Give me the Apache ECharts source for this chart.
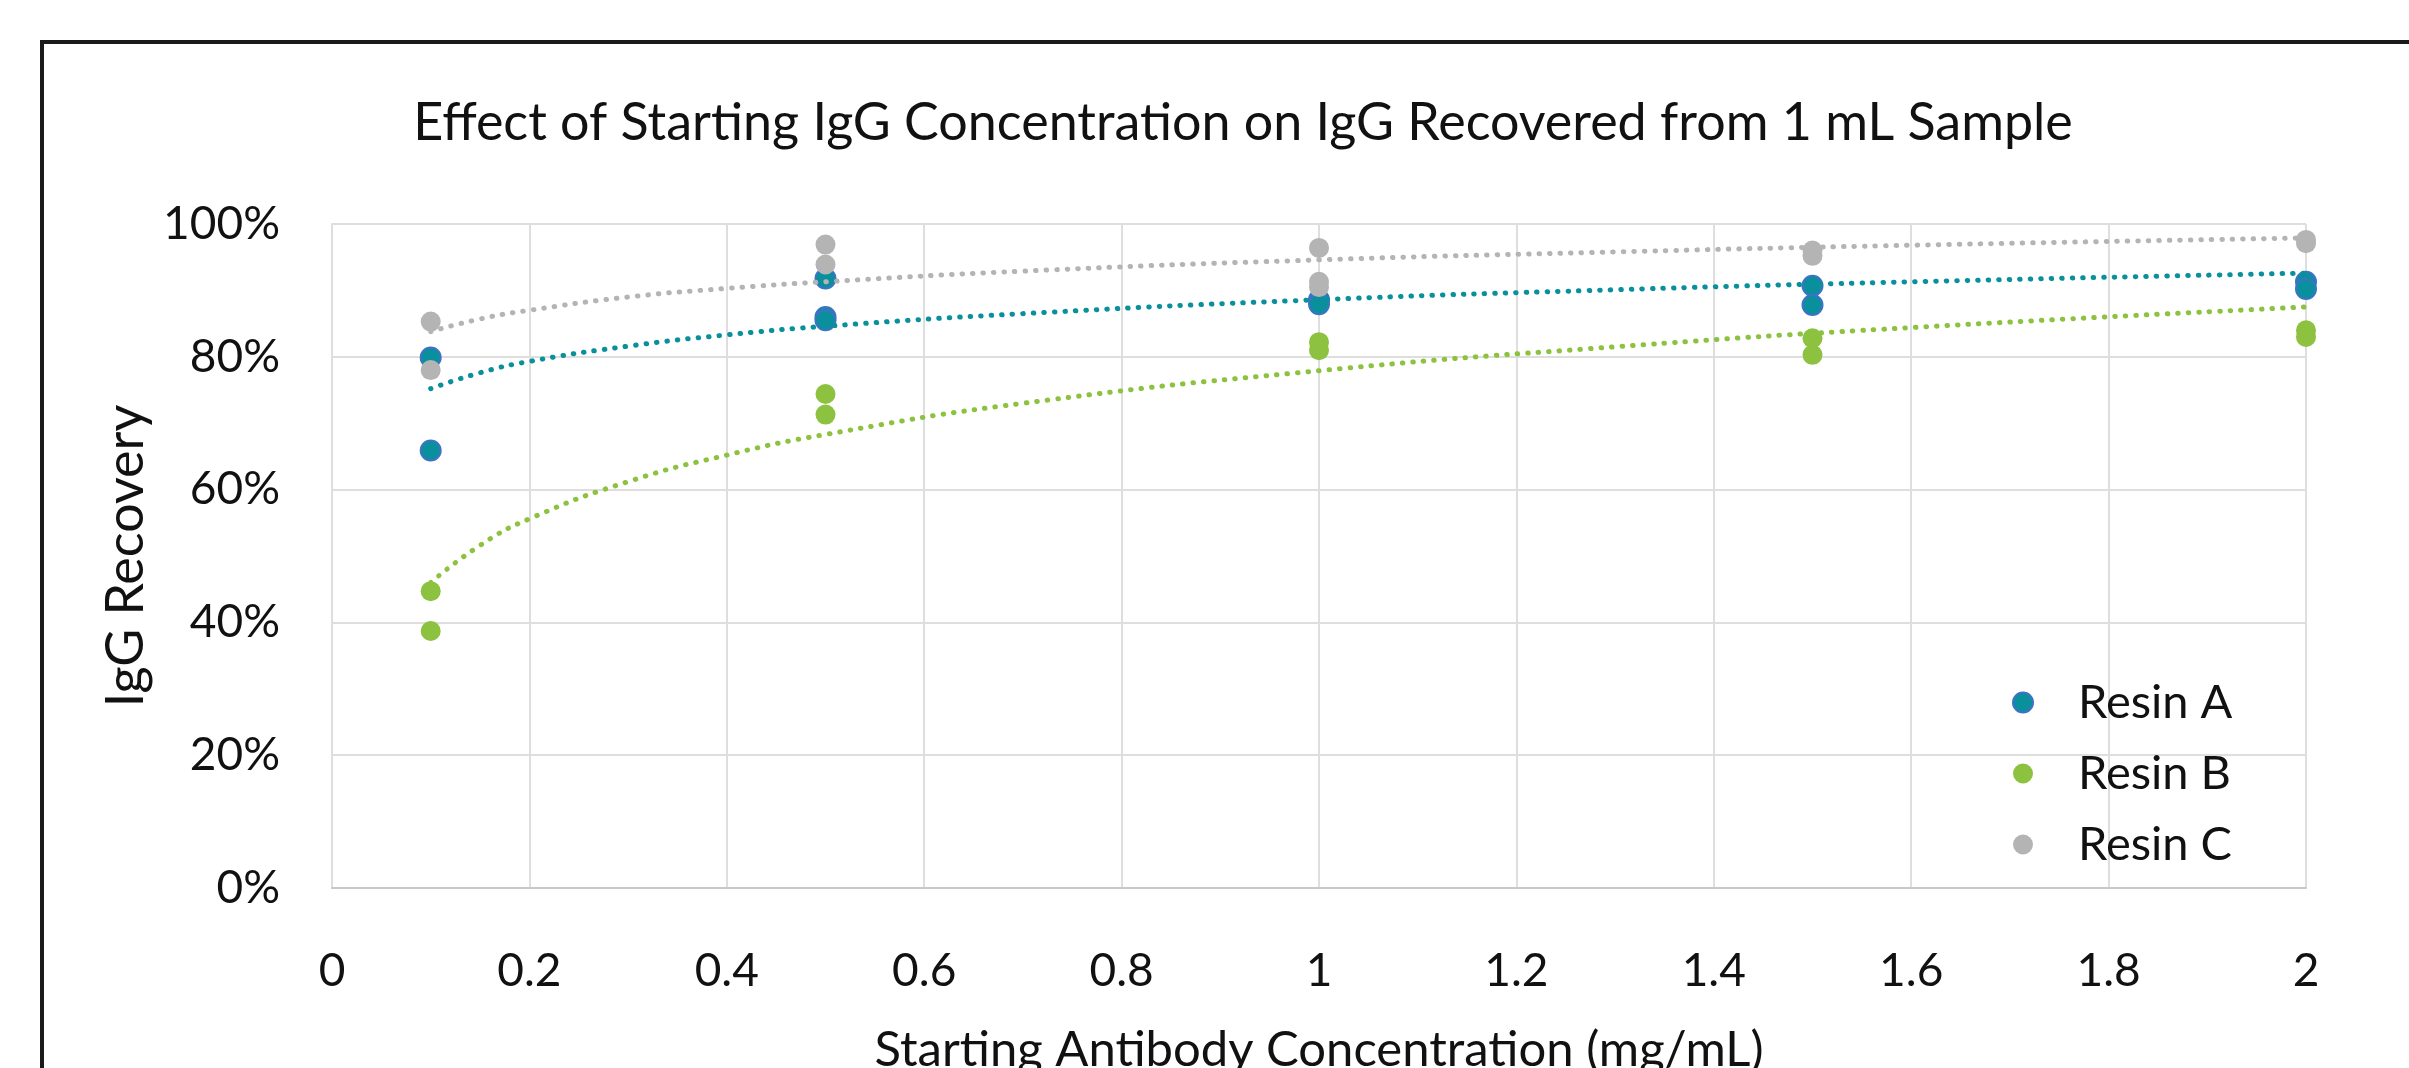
<!DOCTYPE html>
<html>
<head>
<meta charset="utf-8">
<script src="https://cdn.jsdelivr.net/npm/echarts@6/dist/echarts.min.js"></script>
<style>html,body{margin:0;padding:0;background:#fff;overflow:hidden;}#c{width:2409px;height:1068px;}</style>
</head>
<body>
<div id="c"></div>
<script>
const titleText = 'Effect of Starting IgG Concentration on IgG Recovered from 1 mL Sample';
const xAxisName = 'Starting Antibody Concentration (mg/mL)';
const yAxisName = 'IgG Recovery';
const seriesNames = ['Resin A', 'Resin B', 'Resin C'];

// measured points [concentration mg/mL, recovery %]
const resinA = [[0.1,79.9],[0.1,65.9],[0.5,91.8],[0.5,86.0],[0.5,85.5],[1,88.6],[1,87.9],[1.5,90.7],[1.5,87.8],[2,91.3],[2,90.2]];
const resinB = [[0.1,44.7],[0.1,38.7],[0.5,74.4],[0.5,71.3],[1,82.2],[1,81.0],[1.5,82.8],[1.5,80.3],[2,84.0],[2,83.0]];
const resinC = [[0.1,85.3],[0.1,78.0],[0.5,96.9],[0.5,93.9],[1,96.4],[1,91.3],[1,90.5],[1.5,96.0],[1.5,95.2],[2,97.6],[2,97.1]];

// trendline values
const trendX = [0.1,0.15,0.2,0.3,0.4,0.5,0.7,1,1.3,1.6,2];
const trendA = [75.2,77.6,79.3,81.6,83.3,84.6,86.5,88.6,90.1,91.3,92.6];
const trendB = [46.0,51.6,55.6,61.2,65.2,68.3,73.0,77.9,81.5,84.4,87.5];
const trendC = [83.8,85.7,87.0,89.0,90.3,91.3,92.9,94.6,95.8,96.8,97.9];

const FONT = 'Lato';
const colA = '#0a909c', colAborder = '#3d72c6', colB = '#8cc23f', colC = '#b4b4b4';

function trend(vals, color) {
  return {
    type: 'line', data: trendX.map((x, i) => [x, vals[i]]), smooth: true,
    symbol: 'none', silent: true, z: 3,
    lineStyle: { color: color, width: 5, type: [0.5, 10], cap: 'round' }
  };
}

const chart = echarts.init(document.getElementById('c'));
chart.setOption({
  animation: false,
  backgroundColor: '#fff',
  title: {
    text: titleText, left: 1238, top: 92, textAlign: 'center',
    textStyle: { fontFamily: FONT, fontSize: 52, fontWeight: 'normal', color: '#111' }
  },
  grid: { left: 332, right: 103, top: 224, bottom: 180, containLabel: false, outerBoundsMode: 'none' },
  xAxis: {
    type: 'value', min: 0, max: 2, interval: 0.2,
    name: xAxisName, nameLocation: 'middle', nameGap: 138,
    nameTextStyle: { fontFamily: FONT, fontSize: 49, color: '#111' },
    axisLine: { show: true, lineStyle: { color: '#c8c8c8', width: 2 } },
    axisTick: { show: false },
    axisLabel: { fontFamily: FONT, fontSize: 46, color: '#111', margin: 60,
      formatter: v => String(Math.round(v * 10) / 10) },
    splitLine: { show: true, lineStyle: { color: '#dedede', width: 2 } }
  },
  yAxis: {
    type: 'value', min: 0, max: 100, interval: 20,
    name: yAxisName, nameLocation: 'middle', nameGap: 177, nameRotate: 90,
    nameTextStyle: { fontFamily: FONT, fontSize: 52, color: '#111' },
    axisLine: { show: true, lineStyle: { color: '#dedede', width: 2 } },
    axisTick: { show: false },
    axisLabel: { fontFamily: FONT, fontSize: 46, color: '#111', margin: 52, formatter: '{value}%',
      padding: [12, 0, 0, 0] },
    splitLine: { show: true, lineStyle: { color: '#dedede', width: 2 } }
  },
  legend: {
    data: seriesNames, orient: 'vertical', left: 2007, top: 674,
    itemWidth: 20, itemHeight: 20, itemGap: 24, icon: 'circle',
    textStyle: { fontFamily: FONT, fontSize: 47, color: '#111', padding: [0, 0, 0, 40] }
  },
  graphic: [{
    type: 'rect', shape: { x: 42, y: 42, width: 2500, height: 1200 },
    style: { fill: 'none', stroke: '#1a1a1a', lineWidth: 4 }, silent: true, z: 100
  }],
  series: [
    trend(trendA, colA), trend(trendB, colB), trend(trendC, colC),
    { name: 'Resin A', type: 'scatter', data: resinA, symbolSize: 20, z: 2,
      itemStyle: { color: colA, borderColor: colAborder, borderWidth: 2, opacity: 1 } },
    { name: 'Resin B', type: 'scatter', data: resinB, symbolSize: 20, z: 2,
      itemStyle: { color: colB, opacity: 1 } },
    { name: 'Resin C', type: 'scatter', data: resinC, symbolSize: 20, z: 2,
      itemStyle: { color: colC, opacity: 1 } }
  ]
});
</script>
</body>
</html>
